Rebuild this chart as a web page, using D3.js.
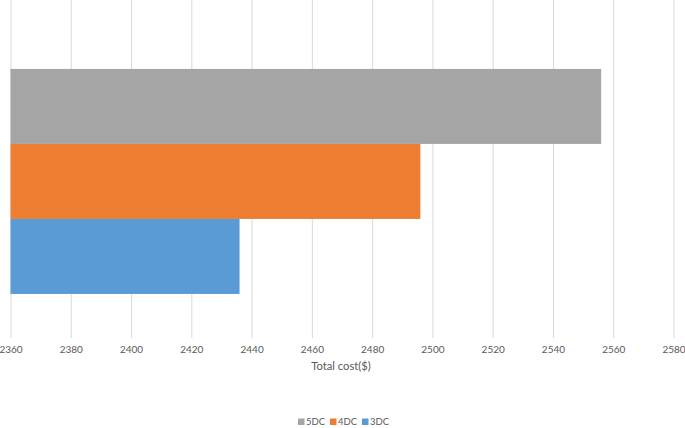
<!DOCTYPE html>
<html>
<head>
<meta charset="utf-8">
<script src="https://cdn.jsdelivr.net/npm/d3@7/dist/d3.min.js"></script>
<style>
  html, body { margin: 0; padding: 0; background: #fff; }
  svg { display: block; }
  text { font-family: Lato, "Liberation Sans", sans-serif; fill: #595959; }
</style>
</head>
<body>
<svg id="chart" width="685" height="428"></svg>
<script>
const categories = ["Total cost($)"];
const seriesNames = ["5DC", "4DC", "3DC"];
const seriesValues = [2556, 2496, 2436];
const seriesColors = ["#A5A5A5", "#ED7D31", "#5B9BD5"];
const xTicks = [2360, 2380, 2400, 2420, 2440, 2460, 2480, 2500, 2520, 2540, 2560, 2580];
const axisTitle = "Total cost($)";

const plot = { left: 10.5, right: 673.5, top: 0, bottom: 338 };

const svg = d3.select("#chart");

const x = d3.scaleLinear().domain([2360, 2580]).range([plot.left, plot.right]);
const yCat = d3.scaleBand().domain(categories).range([plot.top, plot.bottom])
  .paddingInner(0).paddingOuter(0.2511).align(0.61);
const ySer = d3.scaleBand().domain(seriesNames).range([0, yCat.bandwidth()]).padding(0);

// gridlines
const gridAxis = d3.axisBottom(x).tickValues(xTicks).tickSize(-(plot.bottom - plot.top)).tickFormat("");
const grid = svg.append("g").attr("transform", `translate(0,${plot.bottom})`).call(gridAxis);
grid.select(".domain").remove();
grid.selectAll("line").attr("stroke", "#D9D9D9").attr("stroke-width", 1);

// bars
const data = seriesNames.map((s, i) => ({ name: s, value: seriesValues[i], color: seriesColors[i] }));
svg.append("g").selectAll("rect").data(data).join("rect")
  .attr("x", x(2360))
  .attr("y", d => yCat(categories[0]) + ySer(d.name))
  .attr("width", d => x(d.value) - x(2360))
  .attr("height", ySer.bandwidth())
  .attr("fill", d => d.color);

// tick labels
const labelAxis = d3.axisBottom(x).tickValues(xTicks).tickSize(0).tickPadding(0).tickFormat(d3.format("d"));
const lab = svg.append("g").attr("transform", `translate(0,${plot.bottom + 8})`).call(labelAxis);
lab.select(".domain").remove();
lab.selectAll("text").attr("font-size", 10).attr("fill", "#595959")
  .style("font-family", "Lato, 'Liberation Sans', sans-serif");

// axis title
svg.append("text").attr("x", (plot.left + plot.right) / 2 - 1).attr("y", 370)
  .attr("text-anchor", "middle").attr("font-size", 11.2).text(axisTitle);

// legend
const legendX = [298, 330, 362];
const legend = svg.append("g");
seriesNames.forEach((name, i) => {
  const g = legend.append("g").attr("transform", `translate(${legendX[i]},422)`);
  g.append("rect").attr("x", 0).attr("y", -3.5).attr("width", 6.5).attr("height", 6.5).attr("fill", seriesColors[i]);
  g.append("text").attr("x", 8).attr("y", 3.4).attr("font-size", 9.5).text(name);
});
</script>
</body>
</html>
